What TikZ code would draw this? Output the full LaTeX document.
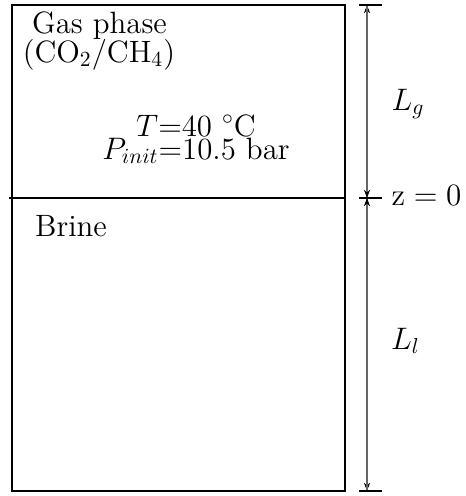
\documentclass[tikz,border=0pt]{standalone}
\usetikzlibrary{arrows.meta}
\begin{document}
\begin{tikzpicture}[x=0.4633pt,y=-0.4633pt,
  font=\fontsize{14.3pt}{17pt}\selectfont,
  boxline/.style={line width=0.95pt},
  phaseline/.style={line width=0.5pt},
  dimline/.style={gray!80!black,line width=0.5pt},
  tickline/.style={line width=0.5pt},
  tip/.style={-{Stealth[length=3.8pt,width=2.8pt,black]}},
  lbl/.style={inner sep=0pt,anchor=base}]
\useasboundingbox (0,0) rectangle (466,496);
% box
\coordinate (tl) at (12,5);
\coordinate (br) at (345,491);
\draw[boxline] (tl) rectangle (br);
\coordinate (ml) at (9,198);
\coordinate (mr) at (345,198);
\draw[phaseline] (ml) -- (mr);
% dimension line
\coordinate (dtop) at (367,5);
\coordinate (dmid) at (367,198);
\coordinate (dbot) at (367,491);
\coordinate (t1a) at (359,5);   \coordinate (t1b) at (382,5);
\coordinate (t2a) at (359,198); \coordinate (t2b) at (382,198);
\coordinate (t3a) at (359,491); \coordinate (t3b) at (382,491);
\draw[dimline,tip] (dmid) -- (dtop);
\draw[dimline,tip] (dtop) -- (dmid);
\draw[dimline,tip] (dmid) -- (dbot);
\draw[dimline,tip] (dbot) -- (dmid);
\draw[tickline] (t1a) -- (t1b);
\draw[tickline] (t2a) -- (t2b);
\draw[tickline] (t3a) -- (t3b);
% labels
\node[lbl] (gas) at (99.5,33) {Gas phase};
\node[lbl] (comp) at (99,62) {(CO$_2$/CH$_4$)};
\node[inner sep=0pt,anchor=north,align=center] (cond) at (196,114)
  {$T$=40 $^\circ$C\\[-6.3pt]$P_{init}$=10.5 bar};
\node[lbl] (brine) at (71,236) {Brine};
\node[lbl] (lg) at (408,110) {$L_g$};
\node[lbl] (z0) at (426.5,205) {$\mathrm{z}=0$};
\node[lbl] (ll) at (405.5,349) {$L_l$};
\end{tikzpicture}
\end{document}
